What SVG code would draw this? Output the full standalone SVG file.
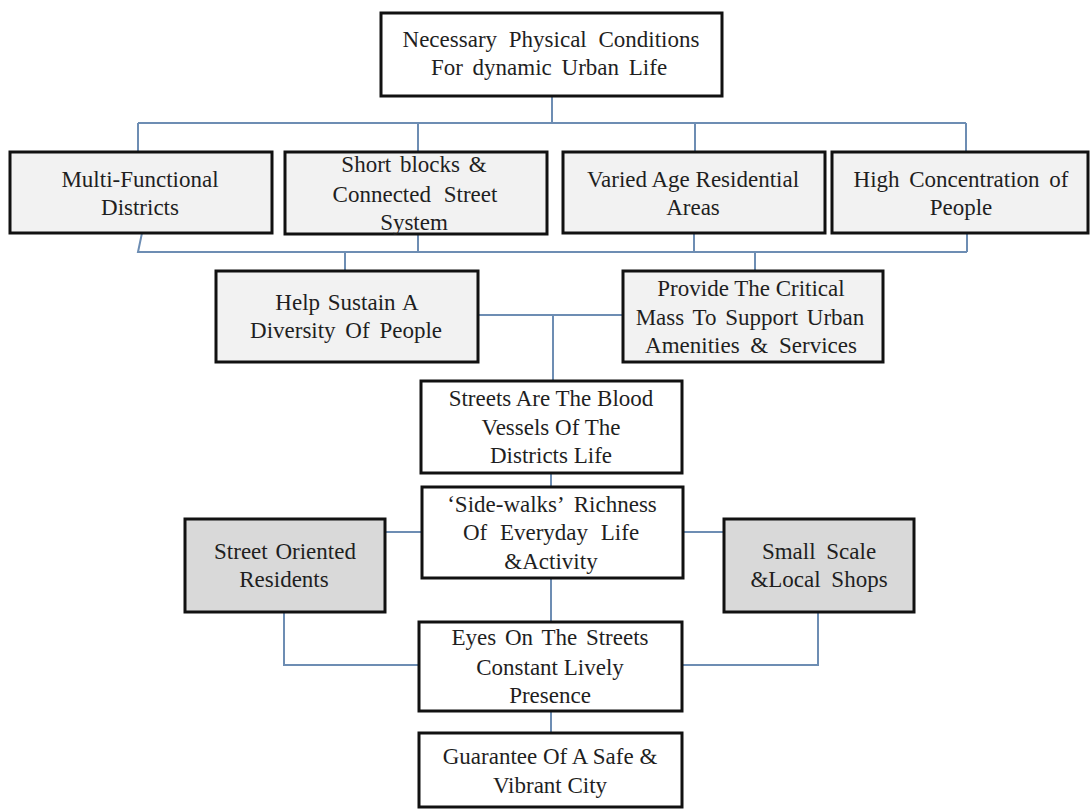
<svg xmlns="http://www.w3.org/2000/svg" width="1091" height="812" viewBox="0 0 1091 812">
<style>
.box{stroke:#111;stroke-width:3}
.w{fill:#ffffff}
.g{fill:#f2f2f2}
.d{fill:#d9d9d9}
text{font-family:"Liberation Serif","Times New Roman",serif;font-size:23px;fill:#1f1f1f;text-anchor:middle}
.c{fill:none;stroke:#6d8db3;stroke-width:2}
</style>
<rect width="1091" height="812" fill="#ffffff"/>
<g id="connectors">
<path class="c" d="M552 96V123M138 123H966M138 123V151M418 123V151M695 123V151M966 123V151"/>
<path class="c" d="M142 233L138 252H967M418 233V252M694 233V252M967 233V252M345 252V271M755 252V271"/>
<path class="c" d="M478 315H623M553 315V381"/>
<path class="c" d="M551 473V487M385 532H422M683 532H724M551 578V622"/>
<path class="c" d="M284 612V665H419M818 612V665H682M551 711V733"/>
</g>
<g id="n-top"><rect class="box w" x="381" y="13" width="341" height="83"/>
<text x="551" y="47" word-spacing="6">Necessary Physical Conditions</text>
<text x="549" y="75" word-spacing="4">For dynamic Urban Life</text></g>
<g id="n-multi"><rect class="box g" x="10" y="152" width="262" height="81"/>
<text x="140" y="187">Multi-Functional</text><text x="140" y="215">Districts</text></g>
<g id="n-short"><rect class="box g" x="285" y="152" width="262" height="82"/>
<text x="414" y="172" word-spacing="3">Short blocks &amp;</text><text x="415" y="202" word-spacing="7">Connected Street</text><text x="414" y="230">System</text></g>
<g id="n-varied"><rect class="box g" x="563" y="152" width="262" height="81"/>
<text x="693" y="187">Varied Age Residential</text><text x="693" y="215">Areas</text></g>
<g id="n-high"><rect class="box g" x="832" y="152" width="256" height="81"/>
<text x="961" y="187" word-spacing="4">High Concentration of</text><text x="961" y="215">People</text></g>
<g id="n-help"><rect class="box g" x="216" y="271" width="262" height="91"/>
<text x="347" y="310" word-spacing="2">Help Sustain A</text><text x="346" y="338" word-spacing="4">Diversity Of People</text></g>
<g id="n-provide"><rect class="box g" x="623" y="271" width="260" height="91"/>
<text x="751" y="296">Provide The Critical</text><text x="750" y="325" word-spacing="3">Mass To Support Urban</text><text x="751" y="353" word-spacing="5">Amenities &amp; Services</text></g>
<g id="n-streets"><rect class="box w" x="421" y="381" width="261" height="92"/>
<text x="551" y="406">Streets Are The Blood</text><text x="551" y="435">Vessels Of The</text><text x="551" y="463">Districts Life</text></g>
<g id="n-side"><rect class="box w" x="422" y="487" width="261" height="91"/>
<text x="552" y="512" word-spacing="5">‘Side-walks’ Richness</text><text x="551" y="540" word-spacing="7">Of Everyday Life</text><text x="551" y="569">&amp;Activity</text></g>
<g id="n-resident"><rect class="box d" x="185" y="519" width="200" height="93"/>
<text x="285" y="559" word-spacing="2">Street Oriented</text><text x="284" y="587">Residents</text></g>
<g id="n-shops"><rect class="box d" x="724" y="519" width="190" height="93"/>
<text x="819" y="559" word-spacing="5">Small Scale</text><text x="819" y="587" word-spacing="5">&amp;Local Shops</text></g>
<g id="n-eyes"><rect class="box w" x="419" y="622" width="263" height="89"/>
<text x="550" y="645" word-spacing="3">Eyes On The Streets</text><text x="550" y="675">Constant Lively</text><text x="550" y="703">Presence</text></g>
<g id="n-guarantee"><rect class="box w" x="419" y="733" width="263" height="74"/>
<text x="550" y="764">Guarantee Of A Safe &amp;</text><text x="550" y="793">Vibrant City</text></g>
</svg>
